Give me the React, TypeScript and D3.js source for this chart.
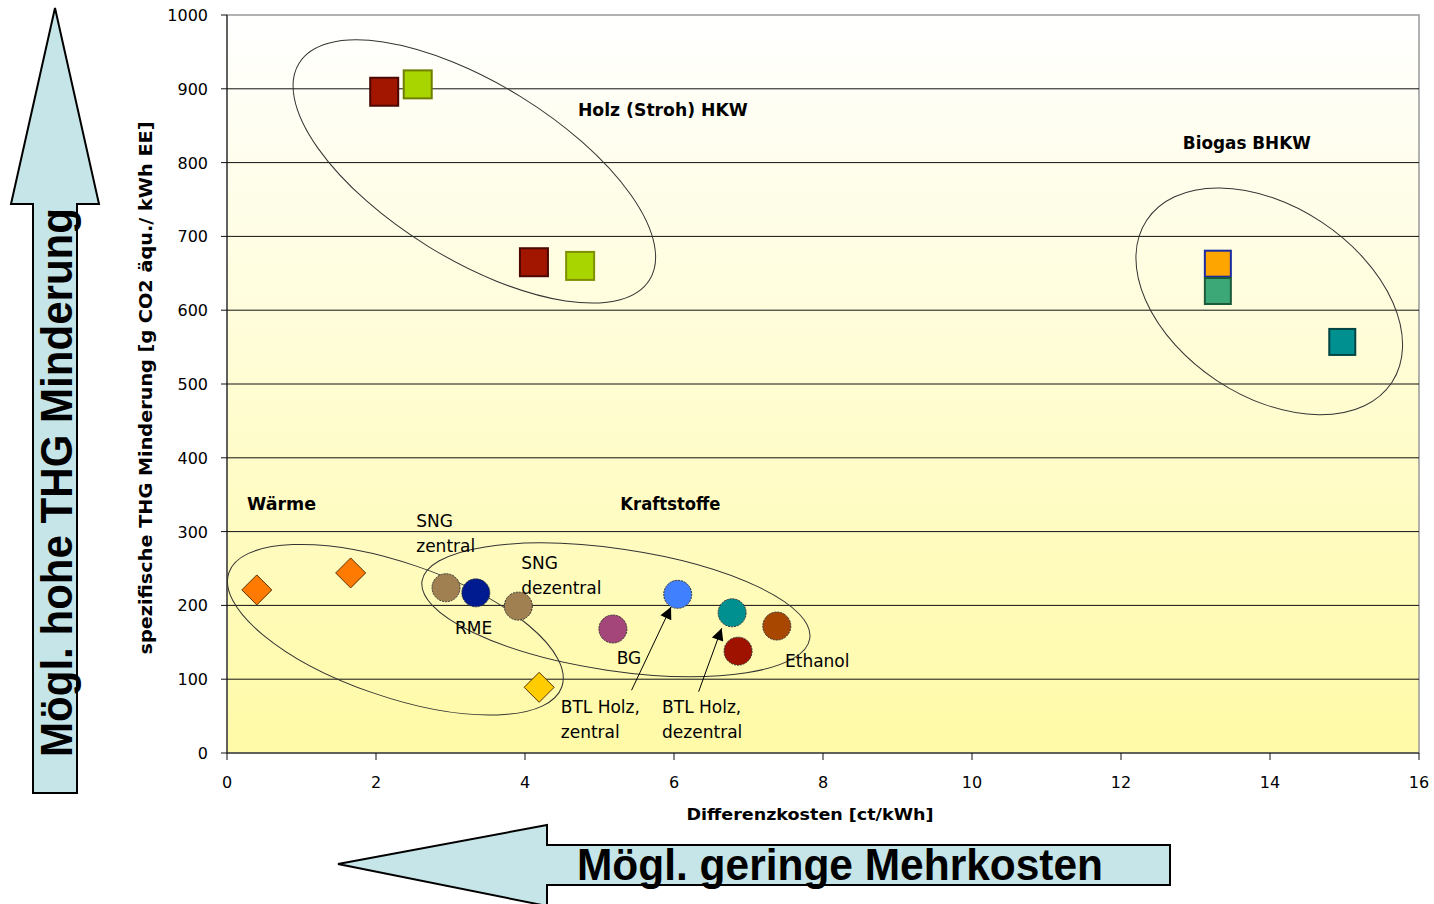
import React from 'react';
import * as d3 from 'd3';

// Differenzkosten [ct/kWh] vs spezifische THG Minderung [g CO2 äqu./kWh EE]
const xTicks = [0, 2, 4, 6, 8, 10, 12, 14, 16];
const yTicks = [0, 100, 200, 300, 400, 500, 600, 700, 800, 900, 1000];

// Holz (Stroh) HKW – squares
const holzX = [2.11, 2.56, 4.12, 4.74];
const holzY = [896, 906, 665, 660];
const holzFill = ['#a21600', '#a8d400', '#a21600', '#a8d400'];
const holzStroke = ['#4a0800', '#6f7f00', '#4a0800', '#7f9000'];

// Biogas BHKW – squares
const biogasX = [13.3, 13.3, 14.97];
const biogasY = [663, 626, 557];
const biogasFill = ['#ffa500', '#3ca878', '#009090'];
const biogasStroke = ['#1a2aa0', '#1d5a3a', '#004545'];

// Wärme – diamonds
const waermeX = [0.4, 1.66, 4.19];
const waermeY = [221, 244, 89];
const waermeFill = ['#ff7a00', '#ff7a00', '#ffcc00'];

// Kraftstoffe – circles
const fuelX = [2.94, 3.34, 3.91, 5.18, 6.05, 6.78, 6.86, 7.38];
const fuelY = [224, 217, 199, 168, 215, 190, 138, 172];
const fuelFill = ['#a08050', '#001a90', '#a08050', '#a4467a', '#4080ff', '#009090', '#a01200', '#a84800'];

// group ellipses: centre in data units, radii in px, angle in degrees
const ellipseCx = [3.32, 13.99, 2.26, 5.22];
const ellipseCy = [788, 612, 167, 194];
const ellipseA = [206, 147, 176, 196];
const ellipseB = [88, 95, 67, 61];
const ellipseAngle = [31.7, 33.5, 18.9, 8.4];

const groupLabels = ['Holz (Stroh) HKW', 'Biogas BHKW', 'Wärme', 'Kraftstoffe'];
const groupLabelX = [4.71, 12.83, 0.27, 5.28];
const groupLabelY = [863, 818, 329, 329];
const groupLabelLen = [170, 128, 69, 100];

const pointLabels = [['SNG', 'zentral'], ['SNG', 'dezentral'], ['RME'], ['BG'], ['Ethanol'], ['BTL Holz,', 'zentral'], ['BTL Holz,', 'dezentral']];
const pointLabelX = [2.54, 3.95, 3.06, 5.23, 7.49, 4.48, 5.84];
const pointLabelY = [306, 249, 161, 121, 117, 54, 54];

// annotation arrows (from label to point)
const arrowFromX = [5.43, 6.33];
const arrowFromY = [85, 83];
const arrowToX = [5.96, 6.64];
const arrowToY = [198, 169];

export default function App() {
  const W = 1434;
  const H = 904;
  const x = d3.scaleLinear().domain([0, 16]).range([227, 1419]);
  const y = d3.scaleLinear().domain([0, 1000]).range([753, 15]);
  const [x0, x1] = x.range();
  const [y0, y1] = y.range();

  const font = 'DejaVu Sans, Verdana, sans-serif';
  const arrowFont = 'Liberation Sans, Arial, sans-serif';
  const sq = 28;
  const dm = 15;
  const r = 14;

  return (
    <svg width={W} height={H} style={{ position: 'absolute', left: 0, top: 0, background: '#fff' }}>
      <defs>
        <linearGradient id="plotBg" x1="0" y1="0" x2="0" y2="1">
          <stop offset="0%" stopColor="#ffffff" />
          <stop offset="100%" stopColor="#fffaa6" />
        </linearGradient>
        <marker id="tip" viewBox="0 0 10 10" refX="10" refY="5" markerWidth="17" markerHeight="12"
          markerUnits="userSpaceOnUse" orient="auto">
          <path d="M0,0 L10,5 L0,10 z" fill="#000" />
        </marker>
      </defs>

      {/* plot area */}
      <rect x={x0} y={y1} width={x1 - x0} height={y0 - y1} fill="url(#plotBg)" stroke="#999" strokeWidth={1.5} />
      {yTicks.slice(1, -1).map((t) => (
        <line key={'g' + t} x1={x0} x2={x1} y1={y(t)} y2={y(t)} stroke="#111" strokeWidth={1} />
      ))}

      {/* axes */}
      <line x1={x0} x2={x0} y1={y1} y2={y0} stroke="#111" />
      <line x1={x0} x2={x1} y1={y0} y2={y0} stroke="#111" />
      {yTicks.map((t) => (
        <g key={'y' + t}>
          <line x1={x0 - 6} x2={x0} y1={y(t)} y2={y(t)} stroke="#111" />
          <text x={208} y={y(t) + 6} textAnchor="end" fontFamily={font} fontSize={16} fill="#000">{t}</text>
        </g>
      ))}
      {xTicks.map((t) => (
        <g key={'x' + t}>
          <line x1={x(t)} x2={x(t)} y1={y0} y2={y0 + 7} stroke="#111" />
          <text x={x(t)} y={788} textAnchor="middle" fontFamily={font} fontSize={16} fill="#000">{t}</text>
        </g>
      ))}
      <text x={810} y={820} textAnchor="middle" fontFamily={font} fontWeight="bold" fontSize={16}
        textLength={247} lengthAdjust="spacingAndGlyphs">Differenzkosten [ct/kWh]</text>
      <text transform={`translate(152,388) rotate(-90)`} textAnchor="middle" fontFamily={font} fontWeight="bold"
        fontSize={17} textLength={533} lengthAdjust="spacingAndGlyphs">spezifische THG Minderung [g CO2 äqu./ kWh EE]</text>

      {/* group ellipses */}
      {ellipseCx.map((cx, i) => (
        <ellipse key={'e' + i} cx={0} cy={0} rx={ellipseA[i]} ry={ellipseB[i]}
          transform={`translate(${x(cx)},${y(ellipseCy[i])}) rotate(${ellipseAngle[i]})`}
          fill="none" stroke="#333" strokeWidth={1} />
      ))}

      {/* squares */}
      {holzX.map((v, i) => (
        <rect key={'h' + i} x={x(v) - sq / 2} y={y(holzY[i]) - sq / 2} width={sq} height={sq}
          fill={holzFill[i]} stroke={holzStroke[i]} strokeWidth={2} />
      ))}
      {biogasX.map((v, i) => (
        <rect key={'b' + i} x={x(v) - 13} y={y(biogasY[i]) - 13} width={26} height={26}
          fill={biogasFill[i]} stroke={biogasStroke[i]} strokeWidth={2} />
      ))}

      {/* diamonds */}
      {waermeX.map((v, i) => {
        const cx = x(v);
        const cy = y(waermeY[i]);
        return (
          <path key={'w' + i} d={`M${cx},${cy - dm} L${cx + dm},${cy} L${cx},${cy + dm} L${cx - dm},${cy} Z`}
            fill={waermeFill[i]} stroke="#5a3000" strokeWidth={1} />
        );
      })}

      {/* circles */}
      {fuelX.map((v, i) => (
        <circle key={'f' + i} cx={x(v)} cy={y(fuelY[i])} r={r} fill={fuelFill[i]} stroke="#333"
          strokeWidth={1} strokeDasharray="2,1" />
      ))}

      {/* arrows */}
      {arrowFromX.map((v, i) => (
        <line key={'a' + i} x1={x(v)} y1={y(arrowFromY[i])} x2={x(arrowToX[i])} y2={y(arrowToY[i])}
          stroke="#000" strokeWidth={1} markerEnd="url(#tip)" />
      ))}

      {/* labels */}
      {groupLabels.map((t, i) => (
        <text key={'gl' + i} x={x(groupLabelX[i])} y={y(groupLabelY[i])} fontFamily={font} fontWeight="bold"
          fontSize={17} textLength={groupLabelLen[i]} lengthAdjust="spacingAndGlyphs">{t}</text>
      ))}
      {pointLabels.map((lines, i) => (
        <text key={'pl' + i} x={x(pointLabelX[i])} y={y(pointLabelY[i])} fontFamily={font} fontSize={17} fill="#000">
          {lines.map((l, j) => (
            <tspan key={j} x={x(pointLabelX[i])} dy={j === 0 ? 0 : 25}>{l}</tspan>
          ))}
        </text>
      ))}

      {/* big direction arrows */}
      <path d="M33,793 L77,793 L77,204 L99,204 L55,8 L11,204 L33,204 Z" fill="#c5e5e8" stroke="#000" strokeWidth={2} />
      <text transform="translate(72,757) rotate(-90)" fontFamily={arrowFont} fontWeight="bold" fontSize={44}
        textLength={549} lengthAdjust="spacingAndGlyphs">Mögl. hohe THG Minderung</text>
      <path d="M1170,845 L1170,885 L547,885 L547,906 L338,864 L547,825 L547,845 Z" fill="#c5e5e8" stroke="#000" strokeWidth={2} />
      <text x={577} y={880} fontFamily={arrowFont} fontWeight="bold" fontSize={44}
        textLength={526} lengthAdjust="spacingAndGlyphs">Mögl. geringe Mehrkosten</text>
    </svg>
  );
}
